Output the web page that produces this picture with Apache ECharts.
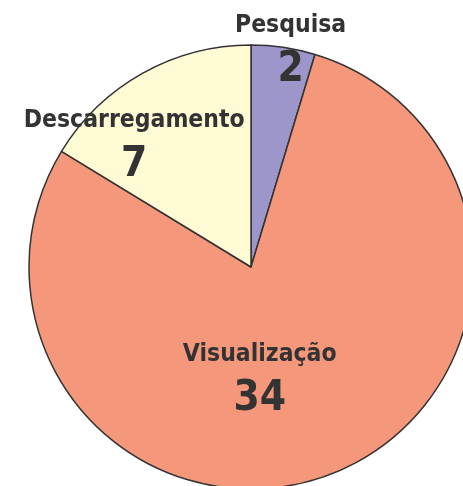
<!DOCTYPE html>
<html><head><meta charset="utf-8">
<script src="https://cdn.jsdelivr.net/npm/echarts@6/dist/echarts.min.js"></script>
<style>html,body{margin:0;padding:0;background:#fff}#c{width:463px;height:486px}</style>
</head><body><div id="c"></div>
<script>
const categories = ['Pesquisa', 'Visualização', 'Descarregamento'];
const values = [2, 34, 7];
const colors = ['#9d96cb', '#f5977a', '#fffbd4'];
const labelOffsets = [[23, -102], [-32, 8], [-61, -20]];

const chart = echarts.init(document.getElementById('c'), null, {renderer: 'canvas'});
const FF = '"DejaVu Sans Condensed", "Liberation Sans Narrow", sans-serif';
chart.setOption({
  animation: false,
  series: [{
    type: 'pie',
    center: [251, 267],
    radius: 222,
    startAngle: 90,
    clockwise: true,
    avoidLabelOverlap: false,
    emphasis: {disabled: true},
    itemStyle: {borderColor: '#333', borderWidth: 1.5},
    label: {
      show: true,
      position: 'inside',
      formatter: p => '{n|' + p.name + '}\n{v|' + p.value + '}',
      rich: {
        n: {fontFamily: FF, fontWeight: 'bold', fontSize: 24.5, color: '#333', lineHeight: 36, align: 'center'},
        v: {fontFamily: FF, fontWeight: 'bold', fontSize: 42, color: '#333', lineHeight: 54, align: 'center'}
      }
    },
    labelLine: {show: false},
    data: categories.map((c, i) => ({
      name: c, value: values[i],
      itemStyle: {color: colors[i]},
      label: {offset: labelOffsets[i]}
    }))
  }]
});
</script></body></html>
